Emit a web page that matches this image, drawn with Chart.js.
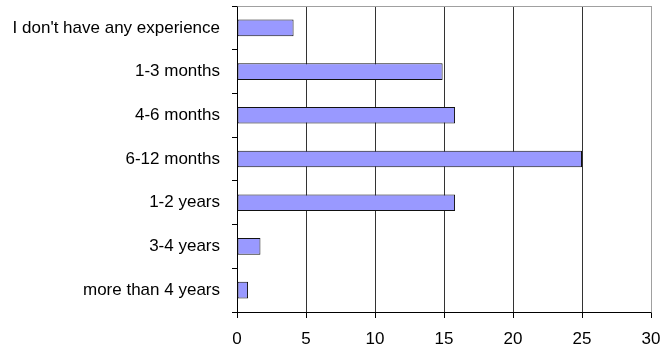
<!DOCTYPE html>
<html>
<head>
<meta charset="utf-8">
<script src="https://cdn.jsdelivr.net/npm/chart.js@4"></script>
<style>
  html, body { margin: 0; padding: 0; background: #fff; }
  #wrap { width: 660px; height: 349px; }
</style>
</head>
<body>
<div id="wrap"><canvas id="expChart"></canvas></div>
<script>
const categories = [
    "I don't have any experience",
    '1-3 months',
    '4-6 months',
    '6-12 months',
    '1-2 years',
    '3-4 years',
    'more than 4 years'
];
const values = [4.1, 14.9, 15.8, 25.0, 15.8, 1.7, 0.8];
const xTicks = [0, 5, 10, 15, 20, 25, 30];

// grey frame on the top and right edge of the plot area
const plotFrame = {
    id: 'plotFrame',
    afterDraw(chart) {
        const a = chart.chartArea;
        const c = chart.ctx;
        c.save();
        c.strokeStyle = '#a0a0a0';
        c.lineWidth = 1;
        c.beginPath();
        c.moveTo(Math.round(a.left) + 0.5, Math.round(a.top) + 0.5);
        c.lineTo(Math.round(a.right) + 0.5, Math.round(a.top) + 0.5);
        c.lineTo(Math.round(a.right) + 0.5, Math.round(a.bottom) + 0.5);
        c.stroke();
        c.restore();
    }
};

const labelFont = { family: 'Liberation Sans, Arial, sans-serif', size: 17 };

const ctx = document.getElementById('expChart').getContext('2d');
new Chart(ctx, {
    type: 'bar',
    data: {
        labels: categories,
        datasets: [{
            data: values,
            backgroundColor: '#9999ff',
            borderColor: '#111',
            borderWidth: 1,
            borderSkipped: false,
            barPercentage: 0.38,
            categoryPercentage: 1
        }]
    },
    options: {
        indexAxis: 'y',
        responsive: true,
        maintainAspectRatio: false,
        animation: false,
        layout: { padding: { top: 6, right: 9, left: 0, bottom: 0 } },
        plugins: {
            legend: { display: false },
            tooltip: { enabled: false }
        },
        scales: {
            x: {
                min: 0,
                max: 30,
                afterBuildTicks(scale) {
                    scale.ticks = xTicks.map(v => ({ value: v }));
                },
                afterFit(scale) {
                    scale.height = 37;
                    scale.paddingLeft = 0;
                    scale.paddingRight = 0;
                },
                grid: {
                    color: ctx => ctx.tick && ctx.tick.value === 30 ? '#a0a0a0' : '#333',
                    lineWidth: 1,
                    drawTicks: true,
                    tickLength: 6,
                    tickColor: '#000'
                },
                border: { display: true, color: '#000', width: 1 },
                ticks: {
                    color: '#000',
                    padding: 11,
                    font: labelFont
                }
            },
            y: {
                afterFit(scale) {
                    scale.width = 237;
                    scale.paddingTop = 0;
                    scale.paddingBottom = 0;
                },
                grid: {
                    drawOnChartArea: false,
                    drawTicks: true,
                    offset: true,
                    tickLength: 5,
                    color: '#000'
                },
                border: { display: true, color: '#000', width: 1 },
                ticks: {
                    color: '#000',
                    padding: 12,
                    font: labelFont
                }
            }
        }
    },
    plugins: [plotFrame]
});
</script>
</body>
</html>
